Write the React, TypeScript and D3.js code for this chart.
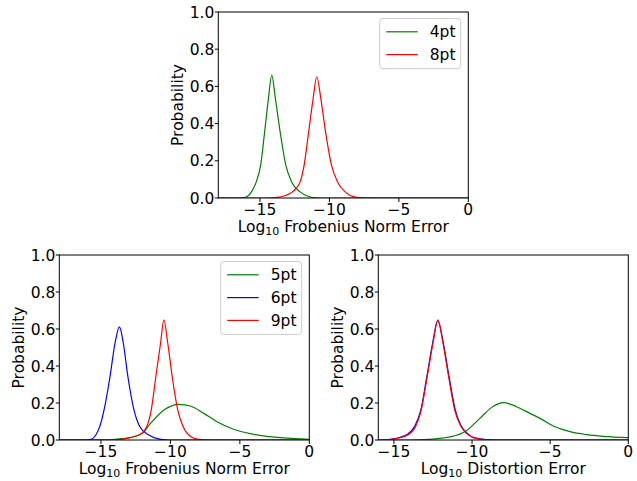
import React from "react";
import * as d3 from "d3";

// tick values
const xTicks = [-15, -10, -5, 0];
const yTicks = [0, 0.2, 0.4, 0.6, 0.8, 1.0];

// top panel: Frobenius norm error (4pt, 8pt)
const frob4pt: [number, number][] = [
  [-18, 0], [-16.6, 0], [-16.05, 0.004], [-15.6, 0.034], [-15.26, 0.088], [-14.95, 0.177],
  [-14.66, 0.357], [-14.39, 0.536], [-14.15, 0.661], [-13.89, 0.536], [-13.55, 0.357],
  [-13.14, 0.177], [-12.73, 0.088], [-12.13, 0.034], [-11.5, 0.008], [-11, 0.001], [-10, 0], [0, 0],
];
const frob8pt: [number, number][] = [
  [-18, 0], [-14.5, 0], [-13.9, 0.002], [-13.1, 0.015], [-12.4, 0.052], [-12.1, 0.088],
  [-11.82, 0.177], [-11.49, 0.357], [-11.17, 0.536], [-10.91, 0.652], [-10.62, 0.536],
  [-10.28, 0.357], [-9.85, 0.177], [-9.42, 0.088], [-8.89, 0.034], [-8.05, 0.004], [-7, 0], [0, 0],
];

// bottom left: Frobenius norm error (5pt, 6pt, 9pt)
const frob5pt: [number, number][] = [
  [-18, 0], [-15, 0.001], [-14, 0.004], [-12.86, 0.014], [-12.02, 0.036], [-11.43, 0.09],
  [-10.47, 0.162], [-9.4, 0.193], [-8.56, 0.184], [-7.6, 0.144], [-6.64, 0.099], [-5.45, 0.058],
  [-4.25, 0.034], [-3.06, 0.02], [-1.86, 0.011], [0, 0.004],
];
const frob6pt: [number, number][] = [
  [-18, 0], [-16.2, 0], [-15.73, 0.003], [-15.37, 0.027], [-15.09, 0.072], [-14.78, 0.162],
  [-14.35, 0.342], [-13.99, 0.523], [-13.67, 0.612], [-13.39, 0.523], [-13.06, 0.342],
  [-12.62, 0.162], [-12.2, 0.072], [-11.55, 0.027], [-10.71, 0.003], [-10, 0], [0, 0],
];
const frob9pt: [number, number][] = [
  [-18, 0], [-14.5, 0], [-13.8, 0.002], [-12.27, 0.027], [-11.71, 0.072], [-11.38, 0.162],
  [-11.05, 0.342], [-10.71, 0.523], [-10.47, 0.649], [-10.19, 0.523], [-9.87, 0.342],
  [-9.47, 0.162], [-9.08, 0.072], [-8.68, 0.027], [-7.96, 0.003], [-7, 0], [0, 0],
];

// bottom right: distortion error (5pt, 6pt, 9pt)
const dist5pt: [number, number][] = [
  [-16, 0], [-14, 0], [-13.04, 0.002], [-11.32, 0.018], [-10.36, 0.05], [-9.5, 0.117],
  [-8.76, 0.175], [-8.0, 0.202], [-7.15, 0.18], [-6.29, 0.144], [-5.65, 0.117], [-4.8, 0.076],
  [-3.73, 0.045], [-2.65, 0.029], [-1.59, 0.02], [0, 0.013],
];
const dist6pt: [number, number][] = [
  [-16, 0], [-15.6, 0], [-15.2, 0.004], [-14.15, 0.03], [-13.66, 0.075], [-13.27, 0.165],
  [-12.89, 0.345], [-12.52, 0.525], [-12.2, 0.645], [-11.84, 0.525], [-11.47, 0.342],
  [-11.07, 0.162], [-10.72, 0.08], [-10.3, 0.036], [-9.88, 0.013], [-9.1, 0.002], [-8.4, 0], [0, 0],
];
const dist9pt: [number, number][] = [
  [-16, 0], [-15.6, 0], [-15.18, 0.003], [-14.11, 0.027], [-13.62, 0.072], [-13.25, 0.162],
  [-12.87, 0.342], [-12.5, 0.523], [-12.18, 0.649], [-11.86, 0.523], [-11.5, 0.342],
  [-11.11, 0.162], [-10.75, 0.08], [-10.36, 0.036], [-9.93, 0.013], [-9.2, 0.002], [-8.5, 0], [0, 0],
];

const FONT = "DejaVu Sans";
const FS = 15.5;
const GREEN = "#008000";
const BLUE = "#0000ff";
const RED = "#ff0000";

type Series = { name: string; color: string; data: [number, number][] };

const fmtX = (v: number) => (v < 0 ? "\u2212" + Math.abs(v) : String(v));

const Panel = ({ id, left, right, top, bottom, xMin, label, series, legend }: {
  id: string; left: number; right: number; top: number; bottom: number; xMin: number;
  label: string; series: Series[]; legend: boolean;
}) => {
  const x = d3.scaleLinear().domain([xMin, 0]).range([left, right]);
  const y = d3.scaleLinear().domain([0, 1]).range([bottom, top]);
  const line = d3.line<[number, number]>()
    .x(d => x(d[0]))
    .y(d => y(d[1]))
    .curve(d3.curveMonotoneX);
  const cy = (top + bottom) / 2;
  const cx = (left + right) / 2;
  const legW = 81;
  const legRight = right - 7.6;
  const legTop = top + 6.5;
  const rowH = 22.8;

  return (
    <g>
      <defs>
        <clipPath id={id}>
          <rect x={left} y={top} width={right - left} height={bottom - top} />
        </clipPath>
      </defs>
      <g clipPath={`url(#${id})`}>
        {series.map(s => (
          <path key={s.name} d={line(s.data) ?? ""} fill="none" stroke={s.color} strokeWidth={1.2} />
        ))}
      </g>
      <rect x={left} y={top} width={right - left} height={bottom - top} fill="none" stroke="#000" strokeWidth={1} />
      {xTicks.map(t => (
        <g key={t}>
          <line x1={x(t)} x2={x(t)} y1={bottom} y2={bottom + 4} stroke="#000" />
          <text x={x(t)} y={bottom + 17} textAnchor="middle" fontSize={FS} fontFamily={FONT}>{fmtX(t)}</text>
        </g>
      ))}
      {yTicks.map(t => (
        <g key={t}>
          <line x1={left - 3.5} x2={left} y1={y(t)} y2={y(t)} stroke="#000" />
          <text x={left - 4} y={y(t) + 5.6} textAnchor="end" fontSize={FS} fontFamily={FONT}>{t.toFixed(1)}</text>
        </g>
      ))}
      <text transform={`translate(${left - 35.5},${cy}) rotate(-90)`} textAnchor="middle" fontSize={FS} fontFamily={FONT}>Probability</text>
      <text x={cx} y={bottom + 33.5} textAnchor="middle" fontSize={FS} fontFamily={FONT}>
        <tspan>Log</tspan>
        <tspan fontSize={11} dy={3.5}>10</tspan>
        <tspan dy={-3.5}>{" " + label}</tspan>
      </text>
      {legend && (
        <g>
          <rect x={legRight - legW} y={legTop} width={legW} height={series.length * rowH + 4.5} rx={3}
            fill="#fff" fillOpacity={0.8} stroke="#cccccc" strokeWidth={1} />
          {series.map((s, i) => {
            const ly = legTop + 13.3 + i * rowH;
            return (
              <g key={s.name}>
                <line x1={legRight - legW + 6.5} x2={legRight - legW + 38} y1={ly} y2={ly} stroke={s.color} strokeWidth={1.2} />
                <text x={legRight - legW + 50} y={ly + 5.6} fontSize={FS} fontFamily={FONT}>{s.name}</text>
              </g>
            );
          })}
        </g>
      )}
    </g>
  );
};

export default function App() {
  const topSeries: Series[] = [
    { name: "4pt", color: GREEN, data: frob4pt },
    { name: "8pt", color: RED, data: frob8pt },
  ];
  const leftSeries: Series[] = [
    { name: "5pt", color: GREEN, data: frob5pt },
    { name: "6pt", color: BLUE, data: frob6pt },
    { name: "9pt", color: RED, data: frob9pt },
  ];
  const rightSeries: Series[] = [
    { name: "5pt", color: GREEN, data: dist5pt },
    { name: "6pt", color: BLUE, data: dist6pt },
    { name: "9pt", color: RED, data: dist9pt },
  ];
  return (
    <svg width={637} height={481} style={{ position: "absolute", left: 0, top: 0, background: "#fff" }}>
      <Panel id="c1" left={218.3} right={468.3} top={12} bottom={198} xMin={-18}
        label="Frobenius Norm Error" series={topSeries} legend={true} />
      <Panel id="c2" left={59.3} right={309.3} top={255} bottom={440} xMin={-18}
        label="Frobenius Norm Error" series={leftSeries} legend={true} />
      <Panel id="c3" left={378.3} right={628.3} top={255} bottom={440} xMin={-16}
        label="Distortion Error" series={rightSeries} legend={false} />
    </svg>
  );
}
